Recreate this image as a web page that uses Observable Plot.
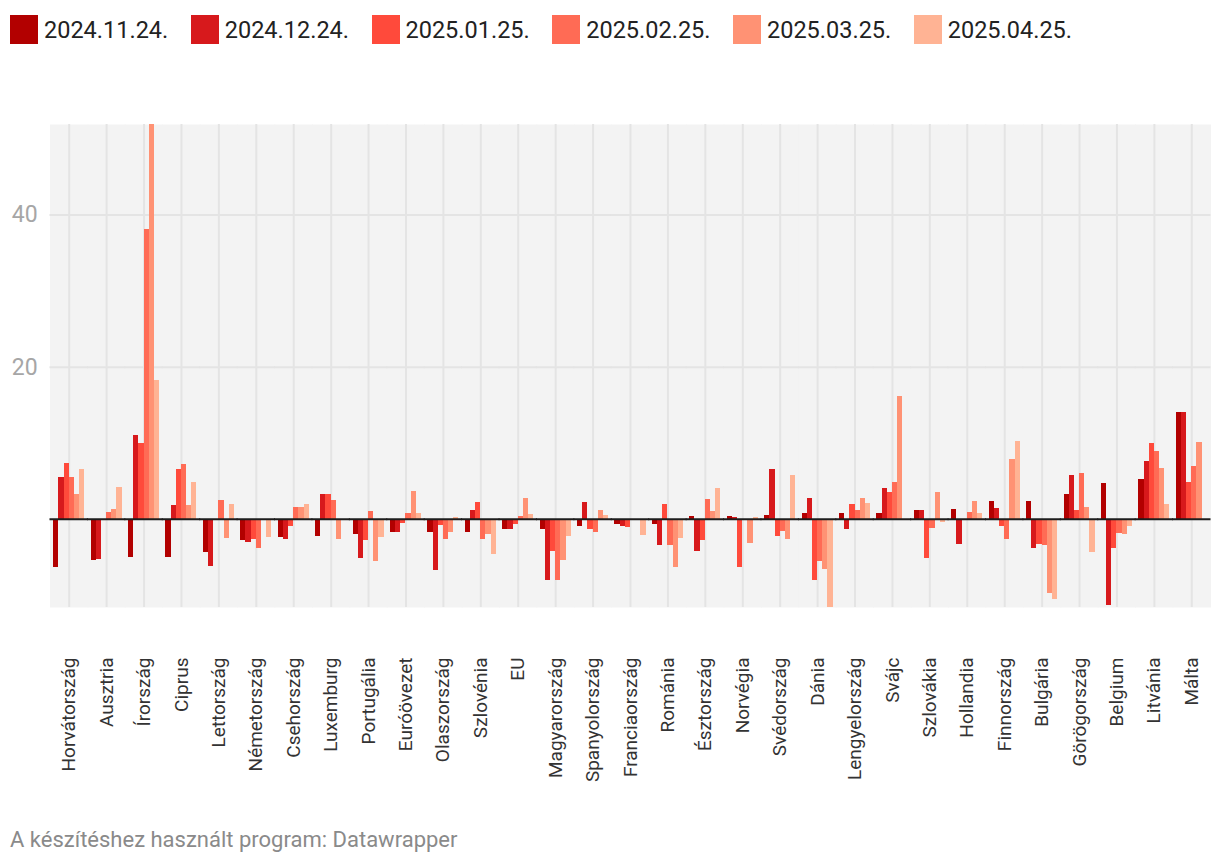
<!DOCTYPE html>
<html><head><meta charset="utf-8">
<script src="https://cdn.jsdelivr.net/npm/d3@7"></script>
<script src="https://cdn.jsdelivr.net/npm/@observablehq/plot@0.6"></script>
<style>
body{margin:0;background:#fff;font-family:Roboto,sans-serif;}
#legend{display:flex;height:56px;padding-left:10px;padding-top:15px;box-sizing:border-box;}
.item{display:flex;align-items:center;margin-right:22.5px;height:29px;}
.sw{width:28px;height:29px;margin-right:6px;}
.lab{font-size:23.5px;color:#222;}
#chart svg{display:block;}
#caption{font-size:22px;color:#8a8a8a;padding-left:10px;margin-top:17px;}
</style></head><body>
<div id="legend"></div>
<div id="chart"></div>
<div id="caption">A készítéshez használt program: Datawrapper</div>
<script>
const countries = ["Horvátország","Ausztria","Írország","Ciprus","Lettország","Németország","Csehország","Luxemburg","Portugália","Euróövezet","Olaszország","Szlovénia","EU","Magyarország","Spanyolország","Franciaország","Románia","Észtország","Norvégia","Svédország","Dánia","Lengyelország","Svájc","Szlovákia","Hollandia","Finnország","Bulgária","Görögország","Belgium","Litvánia","Málta"];
const seriesNames = ["2024.11.24.","2024.12.24.","2025.01.25.","2025.02.25.","2025.03.25.","2025.04.25."];
const colors = ["#b20000","#d7191c","#ff4a3b","#ff6b55","#ff9274","#ffb394"];

const s2024_11 = [-6.3,-5.4,-5.0,-5.0,-4.4,-2.8,-2.4,-2.3,-2.0,-1.8,-1.8,-1.8,-1.4,-1.3,-0.9,-0.7,-0.7,0.35,0.35,0.5,0.7,0.7,0.7,1.1,1.3,2.3,2.3,3.2,4.7,5.2,14.0];
const s2024_12 = [5.5,-5.3,11.0,1.8,-6.2,-3.1,-2.7,3.2,-5.1,-1.7,-6.8,1.1,-1.4,-8.0,2.2,-0.9,-3.5,-4.3,0.2,6.5,2.7,-1.3,4.0,1.1,-3.3,1.4,-3.9,5.7,-11.3,7.6,14.1];
const s2025_01 = [7.3,null,9.9,6.5,null,-2.7,-1.0,3.2,-2.8,-0.5,-0.8,2.2,-0.7,-4.3,-1.3,-1.05,1.9,-2.8,-6.4,-2.2,-8.1,1.9,3.5,-5.2,null,-1.0,-3.3,1.1,-3.9,9.9,4.8];
const s2025_02 = [5.5,0.9,38.1,7.2,2.45,-3.85,1.5,2.45,1.0,0.7,-2.6,-2.6,0.35,-8.0,-1.8,null,-3.4,2.6,null,-1.6,-5.5,1.1,4.8,-1.2,0.9,-2.7,-3.5,6.0,-1.9,8.9,6.9];
const s2025_03 = [3.2,1.3,51.9,1.8,-2.5,null,1.5,-2.7,-5.5,3.6,-1.8,-2.0,2.7,-5.4,1.1,null,-6.4,1.0,-3.15,-2.6,-6.6,2.7,16.1,3.5,2.3,7.8,-9.8,1.5,-2.0,6.65,10.1];
const s2025_04 = [6.5,4.2,18.3,4.8,1.9,-2.4,1.9,null,-2.4,0.7,0.2,-4.6,0.6,-2.2,0.5,-2.1,-2.5,4.0,0.2,5.7,-11.6,2.1,null,-0.4,0.7,10.2,-10.55,-4.4,-1.0,1.9,null];
const yTicks = [20, 40];

const seriesValues = [s2024_11, s2024_12, s2025_01, s2025_02, s2025_03, s2025_04];
const data = [];
countries.forEach((c, i) => seriesNames.forEach((s, j) => {
  const v = seriesValues[j][i];
  if (v != null) data.push({country: c, series: s, value: v});
}));

// legend
const legend = document.getElementById("legend");
seriesNames.forEach((s, j) => {
  const it = document.createElement("div"); it.className = "item";
  const sw = document.createElement("div"); sw.className = "sw"; sw.style.background = colors[j];
  const lb = document.createElement("span"); lb.className = "lab"; lb.textContent = s;
  it.appendChild(sw); it.appendChild(lb); legend.appendChild(it);
});

const yMin = d3.min(data, d => d.value), yMax = d3.max(data, d => d.value);

const W = 1220, mL = 50, mR = 10, pIn = 0.17, pOut = 0.085;
const step = (W - mL - mR) / (countries.length - pIn + 2 * pOut);
const half = step * pIn / 2; // half gap between facets, so band-wide lines join up

const chart = Plot.plot({
  width: W, height: 754,
  marginLeft: mL, marginRight: mR, marginTop: 68, marginBottom: 203,
  style: {fontFamily: "Roboto, sans-serif", background: "transparent"},
  fx: {domain: countries, paddingInner: pIn, paddingOuter: pOut, round: false, label: null},
  x: {domain: seriesNames, padding: 0, round: false, axis: null},
  y: {domain: [yMin, yMax], label: null},
  color: {domain: seriesNames, range: colors},
  marks: [
    Plot.frame({fill: "#f3f3f3", stroke: null, insetLeft: -half - 0.5, insetRight: -half - 0.5}),
    Plot.gridFx({stroke: "#e4e4e4", strokeOpacity: 1, strokeWidth: 2}),
    Plot.ruleY(yTicks, {stroke: "#e4e4e4", strokeWidth: 2, insetLeft: -half - 0.5, insetRight: -half - 0.5}),
    Plot.axisY(yTicks, {tickSize: 0, tickPadding: 16, fontSize: 23, fill: "#a6a6a6", label: null}),
    Plot.axisFx({anchor: "bottom", tickRotate: -90, tickSize: 0, tickPadding: 50, fontSize: 19, fill: "#333", label: null}),
    Plot.barY(data, {fx: "country", x: "series", y: "value", fill: "series", shapeRendering: "crispEdges"}),
    Plot.ruleY([0], {stroke: "#1d1d1d", strokeWidth: 2, insetLeft: -half - 0.5, insetRight: -half - 0.5})
  ]
});
document.getElementById("chart").appendChild(chart);
</script>
</body></html>
